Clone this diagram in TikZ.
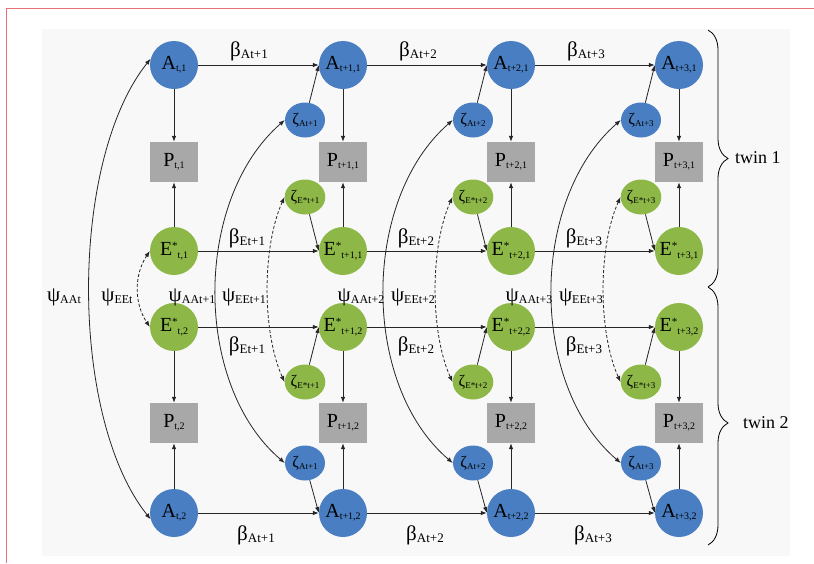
\documentclass[tikz,border=0pt]{standalone}
\usepackage{fontspec}
\setmainfont{Liberation Serif}
\usetikzlibrary{arrows.meta,decorations.pathreplacing,shapes.geometric}

\definecolor{nblue}{HTML}{4A7EC2}
\definecolor{ngreen}{HTML}{8DB847}
\definecolor{pgray}{HTML}{A8A8A8}
\definecolor{bgray}{HTML}{F8F8F8}
\definecolor{framered}{HTML}{E57373}

\newcommand{\Lsub}[2]{{\fontsize{20}{20}\selectfont #1}\raisebox{-0.45ex}{\fontsize{10}{10}\selectfont #2}}
\newcommand{\Estar}[1]{{\fontsize{20}{20}\selectfont E}\raisebox{1.2ex}{\fontsize{11}{11}\selectfont *}\raisebox{-0.6ex}{\fontsize{10}{10}\selectfont #1}}
\newcommand{\Zsub}[1]{{\fontsize{16}{16}\selectfont ζ}\raisebox{-0.45ex}{\fontsize{9}{9}\selectfont #1}}
\newcommand{\Gsub}[3]{{\fontsize{21}{21}\selectfont #1}\raisebox{-0.45ex}{\fontsize{#3}{#3}\selectfont #2}}

\begin{document}
\begin{tikzpicture}[x=1pt,y=-1pt,
  big/.style={circle,minimum size=48pt,inner sep=0pt},
  anode/.style={big,fill=nblue},
  enode/.style={big,fill=ngreen},
  pnode/.style={rectangle,fill=pgray,minimum width=48pt,minimum height=40pt,inner sep=0pt},
  znode/.style={ellipse,minimum width=40pt,minimum height=35pt,inner sep=0pt},
  zanode/.style={znode,fill=nblue},
  zenode/.style={znode,fill=ngreen},
  lab/.style={inner sep=0pt},
  arr/.style={-{Latex[length=6pt,width=4.5pt]},line width=0.8pt,black!85},
  biarr/.style={{Latex[length=6pt,width=4.5pt]}-{Latex[length=6pt,width=4.5pt]},line width=0.8pt,black!85},
  dsh/.style={dash pattern=on 3pt off 2pt},
  brc/.style={decorate,line width=0.8pt}
]
\useasboundingbox (0,0) rectangle (814,563);
\fill[bgray] (42,29) rectangle (790,556);
\draw[framered,line width=1pt] (814,8) -- (6,8) -- (6,563);

\foreach \i/\x/\s in {0/174/t,1/343/t+1,2/511/t+2,3/679/t+3}{
  \node[anode] (A1\i) at (\x,65) {\Lsub{A}{\s,1}};
  \node[pnode] (P1\i) at (\x,162) {\Lsub{P}{\s,1}};
  \node[enode] (E1\i) at (\x,251) {\Estar{\s,1}};
  \node[enode] (E2\i) at (\x,327) {\Estar{\s,2}};
  \node[pnode] (P2\i) at (\x,423) {\Lsub{P}{\s,2}};
  \node[anode] (A2\i) at (\x,513) {\Lsub{A}{\s,2}};
  \draw[arr] (A1\i) -- (P1\i);
  \draw[arr] (E1\i) -- (P1\i);
  \draw[arr] (E2\i) -- (P2\i);
  \draw[arr] (A2\i) -- (P2\i);
}

\foreach \i/\x/\s/\j/\q in {1/343/t+1/0/174,2/511/t+2/1/343,3/679/t+3/2/511}{
  \node[zanode] (ZA1\i) at (\x-38,120) {\Zsub{A\s}};
  \node[zenode] (ZE1\i) at (\x-38,197) {\Zsub{E*\s}};
  \node[zenode] (ZE2\i) at (\x-38,382) {\Zsub{E*\s}};
  \node[zanode] (ZA2\i) at (\x-38,463) {\Zsub{A\s}};
  \draw[arr] (A1\j) -- (A1\i);
  \draw[arr] (E1\j) -- (E1\i);
  \draw[arr] (E2\j) -- (E2\i);
  \draw[arr] (A2\j) -- (A2\i);
  \draw[arr] (ZA1\i) -- (A1\i.west);
  \draw[arr] (ZE1\i) -- (E1\i.west);
  \draw[arr] (ZE2\i) -- (E2\i.west);
  \draw[arr] (ZA2\i) -- (A2\i.west);
  \draw[biarr] (ZA1\i.west) .. controls (\x-150,200) and (\x-150,385) .. (ZA2\i.west);
  \draw[biarr,dsh] (ZE1\i.west) .. controls (\x-81,247) and (\x-81,332) .. (ZE2\i.west);
  \node[lab] (bA1\i) at (\q+75,51) {\Gsub{β}{A\s}{13}};
  \node[lab] (bA2\i) at (\q+82,535) {\Gsub{β}{A\s}{13}};
  \node[lab] (bE1\i) at (\q+73,238) {\Gsub{β}{E\s}{13}};
  \node[lab] (bE2\i) at (\q+73,346) {\Gsub{β}{E\s}{13}};
  \node[lab] (pA\i) at (\q+18,297) {\Gsub{ψ}{AA\s}{12}};
  \node[lab] (pE\i) at (\q+70,297) {\Gsub{ψ}{EE\s}{12}};
}

\draw[biarr] (A10.165) .. controls (69,161) and (69,417) .. (A20.195);
\draw[biarr,dsh] (E10.west) .. controls (134,275) and (134,303) .. (E20.west);
\node[lab] (pA0) at (64,297) {\Gsub{ψ}{AAt}{12}};
\node[lab] (pE0) at (117,297) {\Gsub{ψ}{EEt}{12}};

\draw[brc,decoration={brace,amplitude=20pt}] (708,30) -- (708,287);
\draw[brc,decoration={brace,amplitude=20pt,aspect=0.527}] (708,287) -- (708,545);
\node[anchor=west,inner sep=0pt] (tw1) at (735,158) {\fontsize{18}{18}\selectfont twin 1};
\node[anchor=west,inner sep=0pt] (tw2) at (743,423) {\fontsize{18}{18}\selectfont twin 2};
\end{tikzpicture}
\end{document}
